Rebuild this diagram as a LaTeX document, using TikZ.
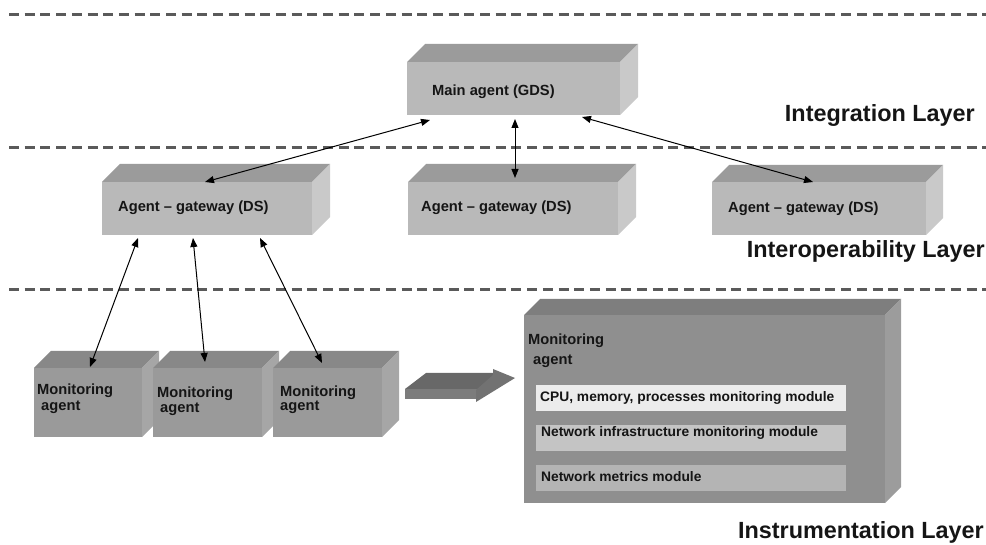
\documentclass[tikz,border=0pt]{standalone}
\usepackage{fontspec}
\setmainfont{Liberation Sans}
\usetikzlibrary{arrows.meta,calc}
\definecolor{dashc}{HTML}{5A5A5A}
\definecolor{lfront}{HTML}{B9B9B9}
\definecolor{ltop}{HTML}{9B9B9B}
\definecolor{lside}{HTML}{C9C9C9}
\definecolor{mfront}{HTML}{9A9A9A}
\definecolor{mtop}{HTML}{888888}
\definecolor{mside}{HTML}{A6A6A6}
\definecolor{bfront}{HTML}{8F8F8F}
\definecolor{btop}{HTML}{7E7E7E}
\definecolor{bside}{HTML}{9C9C9C}
\definecolor{modA}{HTML}{ECECEC}
\definecolor{modB}{HTML}{C4C4C4}
\definecolor{modC}{HTML}{B4B4B4}
\definecolor{txt}{HTML}{151515}
\definecolor{arrA}{HTML}{7C7C7C}
\definecolor{arrB}{HTML}{686868}
\definecolor{arrC}{HTML}{727272}
\tikzset{
  facebox/.style={inner sep=0pt, outer sep=0pt, anchor=north west},
  boxtxt/.style={anchor=base west, inner sep=0pt, text=txt, font=\fontsize{14.7}{17}\selectfont\bfseries},
  modtxt/.style={anchor=base west, inner sep=0pt, text=txt, font=\fontsize{13.8}{16}\selectfont\bfseries},
  layertxt/.style={anchor=base east, inner sep=0pt, text=txt, font=\fontsize{23.4}{27}\selectfont\bfseries},
  layerline/.style={draw=dashc, line width=3pt, dash pattern=on 10pt off 5.7pt},
  conn/.style={line width=1pt, black, {Triangle[length=9pt,width=7pt]}-{Triangle[length=9pt,width=7pt]}},
}
% #1 name, #2 x, #3 y, #4 w, #5 h, #6 depth, #7 front, #8 top, #9 side
\newcommand{\solidbox}[9]{%
  \node[facebox, fill=#7, minimum width=#4pt, minimum height=#5pt] (#1) at (#2,#3) {};
  \fill[#8] (#1.north west) -- ++(#6,-#6) -- ($(#1.north east)+(#6,-#6)$) -- (#1.north east) -- cycle;
  \fill[#9] (#1.north east) -- ++(#6,-#6) -- ($(#1.south east)+(#6,-#6)$) -- (#1.south east) -- cycle;
}
\begin{document}
\begin{tikzpicture}[x=1pt,y=-1pt]
\useasboundingbox (0,0) rectangle (986,545);

% layer separators
\draw[layerline] (9,14.5) -- (986,14.5);
\draw[layerline] (9,148) -- (986,148);
\draw[layerline] (9,290) -- (986,290);

% main agent
\solidbox{main}{407}{62}{213}{53}{18}{lfront}{ltop}{lside}
\node[boxtxt] (maint) at (432,96) {Main agent (GDS)};

% gateways
\solidbox{gwl}{102}{182}{210}{53}{18}{lfront}{ltop}{lside}
\node[boxtxt] (gwlt) at (118,212) {Agent – gateway (DS)};
\solidbox{gwm}{408}{182}{210}{53}{18}{lfront}{ltop}{lside}
\node[boxtxt] (gwmt) at (421,212) {Agent – gateway (DS)};
\solidbox{gwr}{712}{182}{214}{53}{17}{lfront}{ltop}{lside}
\node[boxtxt] (gwrt) at (728,213) {Agent – gateway (DS)};

% small monitoring agents
\solidbox{ma}{34}{368}{108}{69}{17}{mfront}{mtop}{mside}
\node[boxtxt] (mat1) at (37,395) {Monitoring};
\node[boxtxt] (mat2) at (41,410) {agent};
\solidbox{mb}{153}{368}{109}{69}{17}{mfront}{mtop}{mside}
\node[boxtxt] (mbt1) at (157,398) {Monitoring};
\node[boxtxt] (mbt2) at (160,413) {agent};
\solidbox{mc}{273}{368}{109}{69}{17}{mfront}{mtop}{mside}
\node[boxtxt] (mct1) at (280,397) {Monitoring};
\node[boxtxt] (mct2) at (280,411) {agent};

% big monitoring agent
\solidbox{big}{524}{315}{361}{188}{16}{bfront}{btop}{bside}
\node[boxtxt] (bigt1) at (528,345) {Monitoring};
\node[boxtxt] (bigt2) at (533,365) {agent};
\node[facebox, fill=modA, minimum width=310pt, minimum height=26pt] (m1) at (536,385) {};
\node[modtxt] (m1t) at (540,402) {CPU, memory, processes monitoring module};
\node[facebox, fill=modB, minimum width=310pt, minimum height=26pt] (m2) at (536,425) {};
\node[modtxt] (m2t) at (541,437) {Network infrastructure monitoring module};
\node[facebox, fill=modC, minimum width=310pt, minimum height=26pt] (m3) at (536,465) {};
\node[modtxt] (m3t) at (541,482) {Network metrics module};

% block arrow
\fill[arrA] (405,389) rectangle (479,399);
\fill[arrB] (405,389) -- (426,373) -- (496,373) -- (479,389) -- cycle;
\fill[arrC] (493,369) -- (515,378) -- (476,402) -- (476,390) -- (493,375) -- cycle;

% connector end points
\coordinate (a1s) at ($(main.south west)+(23,5)$);
\coordinate (a1e) at ($(gwl.north west)+(103,0)$);
\coordinate (a2s) at ($(main.south west)+(108,4)$);
\coordinate (a2e) at ($(gwm.north west)+(107,-4)$);
\coordinate (a3s) at ($(main.south west)+(175,2)$);
\coordinate (a3e) at ($(gwr.north west)+(101,0)$);
\coordinate (b1s) at ($(gwl.south west)+(36,3)$);
\coordinate (b1e) at ($(ma.north west)+(56,-1)$);
\coordinate (b2s) at ($(gwl.south west)+(91,3)$);
\coordinate (b2e) at ($(mb.north west)+(52,-6)$);
\coordinate (b3s) at ($(gwl.south west)+(158,3)$);
\coordinate (b3e) at ($(mc.north west)+(49,-5)$);

\draw[conn] (a1s) -- (a1e);
\draw[conn] (a2s) -- (a2e);
\draw[conn] (a3s) -- (a3e);
\draw[conn] (b1s) -- (b1e);
\draw[conn] (b2s) -- (b2e);
\draw[conn] (b3s) -- (b3e);

% layer labels
\node[layertxt] (lint) at (975,122) {Integration Layer};
\node[layertxt] (lio) at (985,258) {Interoperability Layer};
\node[layertxt] (lins) at (984,538) {Instrumentation Layer};
\end{tikzpicture}
\end{document}
